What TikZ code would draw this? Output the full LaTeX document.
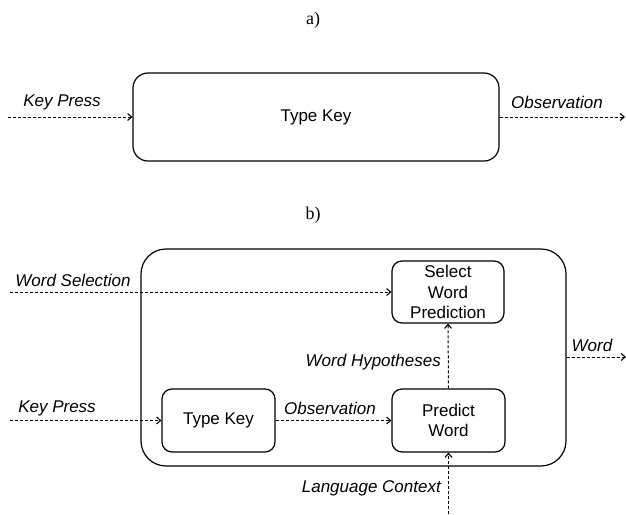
\documentclass[tikz,border=0pt]{standalone}
\usepackage{fontspec}
\setmainfont{Liberation Sans}
\newfontfamily\capfont{Liberation Serif}
\usetikzlibrary{arrows.meta}
\begin{document}
\begin{tikzpicture}[x=1pt,y=-1pt,
  every node/.style={font=\fontsize{17}{20.5}\selectfont},
  block/.style={draw,line width=1.2pt,rounded corners=10pt,align=center,inner sep=0pt},
  flow/.style={line width=1pt,dash pattern=on 3pt off 2pt,-{Straight Barb[length=4pt,width=7pt,line width=1.1pt]}},
  lbl/.style={inner sep=0pt,font=\fontsize{17}{20.5}\selectfont\itshape},
  parttitle/.style={inner sep=0pt,font=\fontsize{18}{21}\selectfont\capfont}]
\useasboundingbox (0,0) rectangle (626,514);

% part a): a single key-typing block
\node[parttitle] (capa) at (313,20) {a)};
\node[block,rounded corners=15pt,minimum width=366pt,minimum height=88pt] (tka) at (316,117) {Type Key};
\coordinate (ina) at (8,117);
\coordinate (outa) at (625,117);
\draw[flow] (ina) -- (tka.west);
\draw[flow] (tka.east) -- (outa);
\node[lbl] (kpa) at (62,102) {Key Press};
\node[lbl] (oba) at (557,102) {Observation};

% part b): the composite block with its inner steps
\node[parttitle] (capb) at (313,215) {b)};
\node[block,rounded corners=25pt,minimum width=425pt,minimum height=217pt] (big) at (353.5,357.5) {};
\node[block,minimum width=112pt,minimum height=62pt] (sel) at (448,292) {Select\\Word\\Prediction};
\node[block,minimum width=113pt,minimum height=63pt] (pred) at (448.5,420.5) {Predict\\Word};
\node[block,minimum width=113pt,minimum height=63pt] (tkb) at (218.5,420.5) {Type Key};

\coordinate (wsin) at (10,292);
\coordinate (kpin) at (10,420.5);
\coordinate (wout) at (626,357);
\coordinate (lcin) at (448.5,514);

\draw[flow] (wsin) -- (sel.west);
\draw[flow] (kpin) -- (tkb.west);
\draw[flow] (tkb.east) -- (pred.west);
\draw[flow] (pred.north) -- (sel.south);
\draw[flow] (big.east |- wout) -- (wout);
\draw[flow] (lcin) -- (pred.south);

\node[lbl] (wsl) at (73,280) {Word Selection};
\node[lbl] (kpl) at (57,408) {Key Press};
\node[lbl] (obl) at (330,408) {Observation};
\node[lbl,anchor=east] (whl) at (441,362) {Word Hypotheses};
\node[lbl] (wl) at (592,345) {Word};
\node[lbl,anchor=east] (lcl) at (441,488) {Language Context};
\end{tikzpicture}
\end{document}
